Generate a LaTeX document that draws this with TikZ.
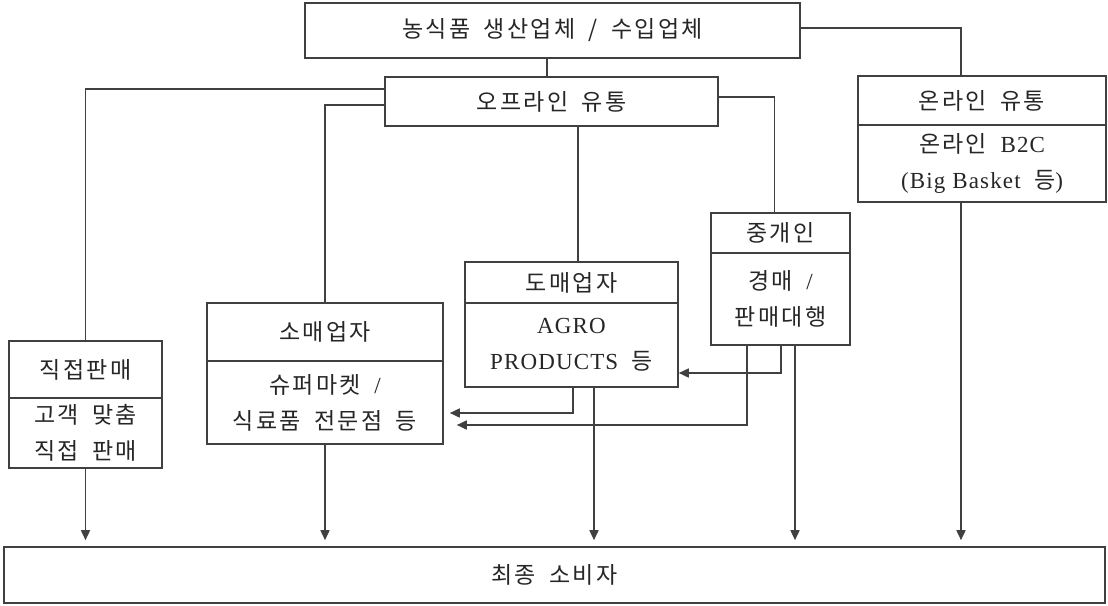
\documentclass[tikz,border=0pt]{standalone}
\usepackage{fontspec}
\setmainfont{Liberation Serif}[LetterSpace=5]
\newfontfamily\kr{Noto Sans CJK KR}[LetterSpace=10,WordSpace=1.8]
\usetikzlibrary{arrows.meta}
\begin{document}
\begin{tikzpicture}[x=1pt,y=-1pt,
  box/.style={draw=black!75, line width=1.6pt, rectangle, inner sep=0pt,
    text=black!85, align=center, font=\fontsize{23}{36}\selectfont\kr},
  conn/.style={draw=black!75, line width=1.6pt},
  arr/.style={conn, -{Triangle[length=10pt,width=9pt]}}]
\useasboundingbox (0,0) rectangle (1108,605);
\fill[white] (0,0) rectangle (1108,605);

\node[box, minimum width=495pt, minimum height=55pt] (top) at (552.5,30.5) {농식품 생산업체 / 수입업체};
\node[box, minimum width=333pt, minimum height=49pt] (off) at (551.5,101.5) {오프라인 유통};

\node[box, minimum width=248pt, minimum height=49pt] (onH) at (982,100.5) {온라인 유통};
\node[box, minimum width=248pt, minimum height=77pt] (onB) at (982,163.5) {온라인 {\rmfamily B2C}\\{\rmfamily (Big Basket} 등{\rmfamily )}};

\node[box, minimum width=139pt, minimum height=40pt] (brH) at (780.5,233) {중개인};
\node[box, minimum width=139pt, minimum height=92pt] (brB) at (780.5,299) {경매 {\rmfamily /}\\판매대행};

\node[box, minimum width=213pt, minimum height=41pt] (whH) at (571.5,282.5) {도매업자};
\node[box, minimum width=213pt, minimum height=84pt] (whB) at (571.5,345) {{\rmfamily AGRO}\\{\rmfamily PRODUCTS} 등};

\node[box, minimum width=236pt, minimum height=58pt] (reH) at (325,332) {소매업자};
\node[box, minimum width=236pt, minimum height=83pt] (reB) at (325,402.5) {슈퍼마켓 {\rmfamily /}\\식료품 전문점 등};

\node[box, minimum width=153pt, minimum height=57pt] (diH) at (85.5,369.5) {직접판매};
\node[box, minimum width=153pt, minimum height=70pt] (diB) at (85.5,433) {고객 맞춤\\직접 판매};

\node[box, minimum width=1101pt, minimum height=56pt] (con) at (554.5,575) {최종 소비자};

% top to offline / online
\draw[conn] ([xshift=-5.5pt]top.south) -- ([xshift=-5.5pt]top.south |- off.north);
\draw[conn] ([yshift=2.5pt]top.east) -| ([xshift=-21pt]onH.north);

% offline to channels
\draw[conn] ([yshift=12.5pt]off.west) -| (diH.north);
\draw[conn] ([yshift=-3.5pt]off.west) -| (reH.north);
\draw[conn] ([yshift=4.5pt]off.east) -| ([xshift=-6pt]brH.north);
\draw[conn] ([xshift=6.5pt]whH.north |- off.south) -- ([xshift=6.5pt]whH.north);

% broker / wholesaler flows
\draw[arr] ([xshift=0.5pt]brB.south) |- ([yshift=-28pt]whB.east);
\draw[arr, shorten >=13pt] ([xshift=-33.5pt]brB.south) |- ([yshift=-22.5pt]reB.east);
\draw[arr, shorten >=6pt] ([xshift=1.5pt]whB.south) |- ([yshift=-10.5pt]reB.east);

% to consumers
\draw[arr, shorten >=6pt] (diB.south) -- (diB.south |- con.north);
\draw[arr, shorten >=6pt] (reB.south) -- (reB.south |- con.north);
\draw[arr, shorten >=6pt] ([xshift=22.5pt]whB.south) -- ([xshift=22.5pt]whB.south |- con.north);
\draw[arr, shorten >=6pt] ([xshift=14.5pt]brB.south) -- ([xshift=14.5pt]brB.south |- con.north);
\draw[arr, shorten >=6pt] ([xshift=-21pt]onB.south) -- ([xshift=-21pt]onB.south |- con.north);
\end{tikzpicture}
\end{document}
